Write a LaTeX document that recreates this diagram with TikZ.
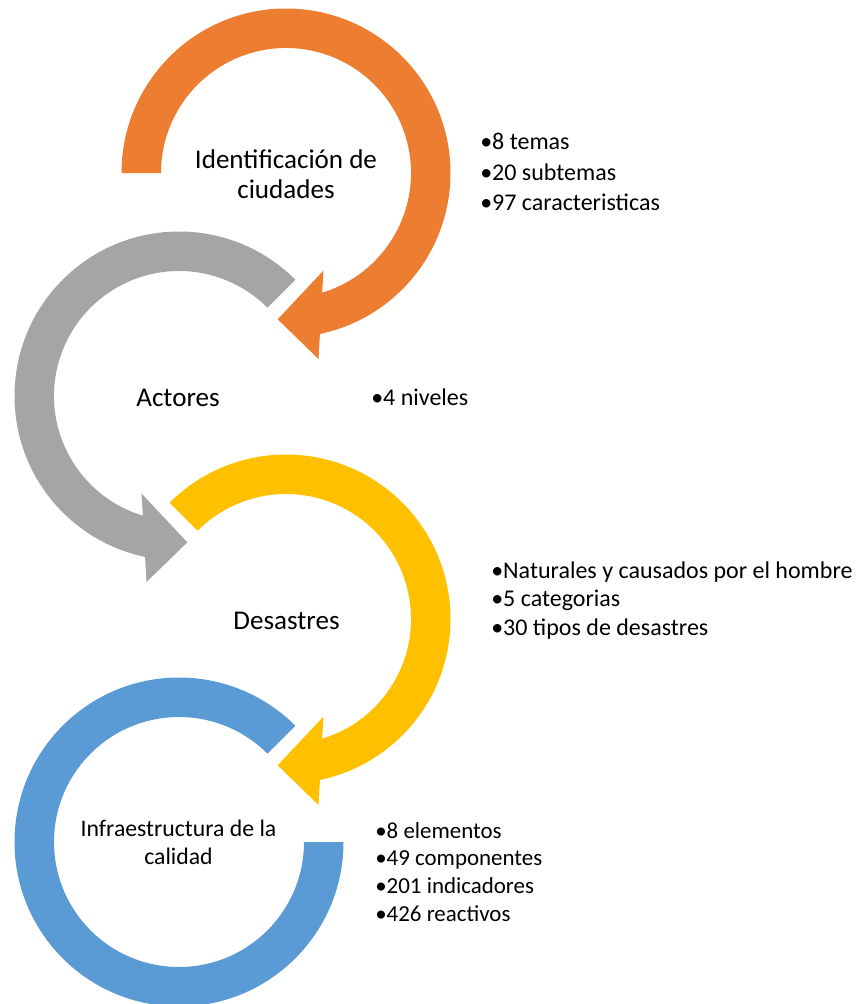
\documentclass[tikz,border=0pt]{standalone}
\usepackage{fontspec}
\setmainfont{Carlito}
\definecolor{arcOrange}{HTML}{ED7D31}
\definecolor{arcGray}{HTML}{A5A5A5}
\definecolor{arcYellow}{HTML}{FFC000}
\definecolor{arcBlue}{HTML}{5B9BD5}
\begin{document}
\begin{tikzpicture}[x=0.75pt,y=-0.75pt,
  steplabel/.style={anchor=base, inner sep=0pt, font=\fontsize{20.3}{22.5}\selectfont},
  bulletlist/.style={anchor=base west, inner sep=0pt, font=\fontsize{18}{22.9}\selectfont}]
\useasboundingbox (0,0) rectangle (860,1004);

% step 1: clockwise ring with arrowhead
\begin{scope}[shift={(286,173)}]
  \fill[arcOrange] (180:164.5) arc[start angle=180,end angle=438.1,radius=164.5]
    -- (32.5,186) -- (-8.3,146.3) -- (37.5,97.5) -- (433.2:125)
    arc[start angle=433.2,end angle=180,radius=125] -- cycle;
\end{scope}

% step 2: counter-clockwise ring with arrowhead
\begin{scope}[shift={(179,396)}]
  \fill[arcGray] (-45:164.5) arc[start angle=-45,end angle=-258.1,radius=164.5]
    -- (-32.5,186) -- (8.3,146.3) -- (-37.5,97.5) -- (-253.2:125)
    arc[start angle=-253.2,end angle=-45,radius=125] -- cycle;
\end{scope}

% step 3: clockwise ring with arrowhead
\begin{scope}[shift={(286,619)}]
  \fill[arcYellow] (225:164.5) arc[start angle=225,end angle=438.1,radius=164.5]
    -- (32.5,186) -- (-8.3,146.3) -- (37.5,97.5) -- (433.2:125)
    arc[start angle=433.2,end angle=225,radius=125] -- cycle;
\end{scope}

% step 4: closing ring without arrowhead
\begin{scope}[shift={(179,842)}]
  \fill[arcBlue] (0:164.5) arc[start angle=0,end angle=315,radius=164.5]
    -- (315:125) arc[start angle=315,end angle=0,radius=125] -- cycle;
\end{scope}

% step titles
\node[steplabel] (s1) at (286,168) {\begin{tabular}[t]{@{}c@{}}Identificación de\\ciudades\end{tabular}};
\node[steplabel] (s2) at (178,406) {Actores};
\node[steplabel] (s3) at (286.5,629) {Desastres};
\node[steplabel, font=\fontsize{17.8}{20.5}\selectfont] (s4) at (178.5,836.7) {\begin{tabular}[t]{@{}c@{}}Infraestructura de la\\calidad\end{tabular}};

% step details
\node[bulletlist] (d1) at (480,149.5) {\begin{tabular}[t]{@{}l@{}}•8 temas\\•20 subtemas\\•97 caracteristicas\end{tabular}};
\node[bulletlist] (d2) at (371,405) {•4 niveles};
\node[bulletlist, font=\fontsize{18}{21.4}\selectfont] (d3) at (491,578) {\begin{tabular}[t]{@{}l@{}}•Naturales y causados por el hombre\\•5 categorias\\•30 tipos de desastres\end{tabular}};
\node[bulletlist, font=\fontsize{17.2}{20.7}\selectfont] (d4) at (375,838.3) {\begin{tabular}[t]{@{}l@{}}•8 elementos\\•49 componentes\\•201 indicadores\\•426 reactivos\end{tabular}};
\end{tikzpicture}
\end{document}
